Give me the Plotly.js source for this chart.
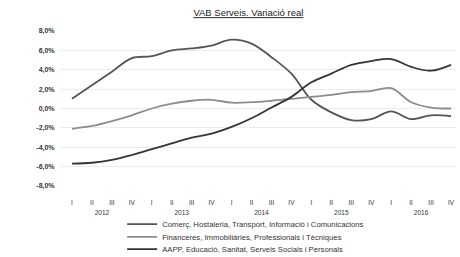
<!DOCTYPE html>
<html>
<head>
<meta charset="utf-8">
<script src="https://cdn.plot.ly/plotly-3.0.1.min.js"></script>
<style>html,body{margin:0;padding:0;background:#fff;}#chart{width:460px;height:257px;}</style>
</head>
<body>
<div id="chart"></div>
<script>
const years = ['2012','2012','2012','2012','2013','2013','2013','2013','2014','2014','2014','2014','2015','2015','2015','2015','2016','2016','2016','2016'];
const quarters = ['I','II','III','IV','I','II','III','IV','I','II','III','IV','I','II','III','IV','I','II','III','IV'];
const seriesNames = [
  'Comerç, Hostaleria, Transport, Informació i Comunicacions',
  'Financeres, Immobiliàries, Professionals i Tècniques',
  'AAPP, Educació, Sanitat, Serveis Socials i Personals'
];
const comerc = [1.0, 2.4, 3.8, 5.2, 5.4, 6.0, 6.2, 6.5, 7.1, 6.7, 5.3, 3.6, 0.9, -0.4, -1.2, -1.1, -0.3, -1.1, -0.7, -0.8];
const financeres = [-2.1, -1.8, -1.3, -0.7, 0.0, 0.5, 0.8, 0.9, 0.6, 0.65, 0.8, 1.0, 1.2, 1.4, 1.7, 1.8, 2.1, 0.65, 0.1, 0.0];
const aapp = [-5.7, -5.6, -5.3, -4.8, -4.2, -3.6, -3.0, -2.6, -1.9, -1.0, 0.1, 1.2, 2.7, 3.6, 4.5, 4.9, 5.1, 4.3, 3.9, 4.5];
const yTicks = [-8, -6, -4, -2, 0, 2, 4, 6, 8];
const yTickLabels = ['-8,0%', '-6,0%', '-4,0%', '-2,0%', '0,0%', '2,0%', '4,0%', '6,0%', '8,0%'];

const idx = quarters.map((q, i) => i);
const yearList = [...new Set(years)];
const yearCenters = yearList.map(y => {
  const ii = idx.filter(i => years[i] === y);
  return ii.reduce((a, b) => a + b, 0) / ii.length;
});

const colors = ['#555555', '#8c8c8c', '#353535'];
const values = [comerc, financeres, aapp];
const legends = ['legend', 'legend2', 'legend3'];
const FONT = 'Liberation Sans, Arial, sans-serif';

const traces = values.map((v, i) => ({
  type: 'scatter', mode: 'lines',
  x: idx, y: v,
  name: seriesNames[i],
  legend: legends[i],
  line: {color: colors[i], width: 1.8, shape: 'spline', smoothing: 1}
}));
// invisible helper trace so the year axis is drawn
traces.push({type: 'scatter', mode: 'lines', x: idx, y: aapp, xaxis: 'x2', yaxis: 'y',
  opacity: 0, showlegend: false, hoverinfo: 'skip', line: {width: 0}});

function legendAt(y) {
  return {x: 0.157, xanchor: 'left', y: y, yanchor: 'middle', yref: 'container',
    bgcolor: 'rgba(0,0,0,0)', borderwidth: 0,
    font: {family: FONT, size: 7.7, color: '#333'}};
}

const layout = {
  width: 460, height: 257,
  margin: {l: 60, r: 4, t: 31, b: 71},
  paper_bgcolor: '#fff', plot_bgcolor: '#fff',
  showlegend: true,
  title: {text: '<u>VAB Serveis. Variació real</u>', x: 0.54, xanchor: 'center', y: 0.95, yanchor: 'middle',
    font: {family: FONT, size: 9.5, color: '#222'}},
  xaxis: {
    range: [-0.6, 19.25], automargin: false,
    tickvals: idx, ticktext: quarters,
    showgrid: false, zeroline: false, showline: false,
    ticks: 'outside', ticklen: 10, tickcolor: 'rgba(0,0,0,0)',
    tickfont: {family: FONT, size: 6.5, color: '#333'}
  },
  xaxis2: {
    overlaying: 'x', anchor: 'y', side: 'bottom', matches: 'x', automargin: false,
    tickvals: yearCenters, ticktext: yearList,
    showgrid: false, zeroline: false, showline: false,
    ticks: 'outside', ticklen: 20, tickcolor: 'rgba(0,0,0,0)',
    tickfont: {family: FONT, size: 6.5, color: '#333'}
  },
  yaxis: {
    range: [-8, 8], tickvals: yTicks, ticktext: yTickLabels, automargin: false,
    showgrid: true, gridcolor: '#ececec', gridwidth: 1, zeroline: false, showline: false,
    ticks: 'outside', ticklen: 3, tickcolor: 'rgba(0,0,0,0)',
    tickfont: {family: FONT, size: 7, color: '#333', weight: 'bold'}
  },
  legend: legendAt(0.128),
  legend2: legendAt(0.078),
  legend3: legendAt(0.031)
};

Plotly.newPlot('chart', traces, layout, {displayModeBar: false, staticPlot: true});
</script>
</body>
</html>
